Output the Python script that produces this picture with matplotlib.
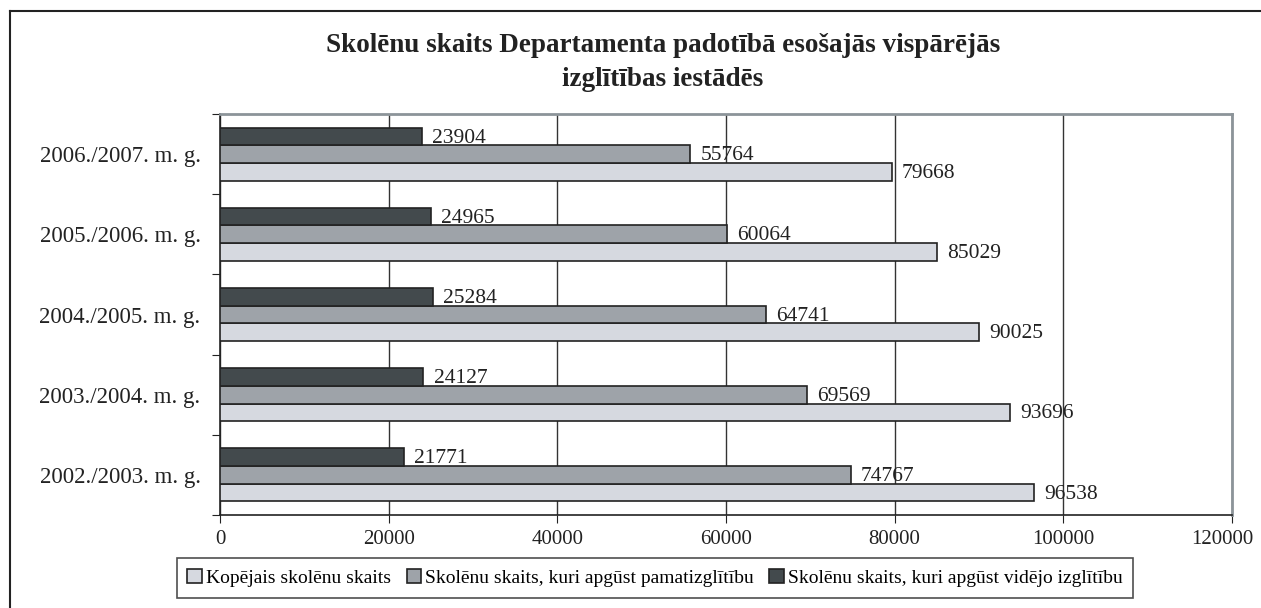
import matplotlib.pyplot as plt
import numpy as np
from matplotlib.lines import Line2D
from matplotlib.transforms import ScaledTranslation

plt.rcParams['font.family'] = ['Liberation Serif', 'DejaVu Serif']

years = ['2002./2003. m. g.', '2003./2004. m. g.', '2004./2005. m. g.',
         '2005./2006. m. g.', '2006./2007. m. g.']
kopejais = [96538, 93696, 90025, 85029, 79668]
pamat = [74767, 69569, 64741, 60064, 55764]
videjo = [21771, 24127, 25284, 24965, 23904]

labels = ['Kopējais skolēnu skaits',
          'Skolēnu skaits, kuri apgūst pamatizglītību',
          'Skolēnu skaits, kuri apgūst vidējo izglītību']
colors = ['#d6d9e0', '#9ea3a9', '#434a4d']

W, H = 1261, 608
fig = plt.figure(figsize=(W / 100, H / 100), dpi=100)
ax = fig.add_axes([220 / W, (H - 515) / H, 1012 / W, 401 / H])

y = np.arange(len(years))
h = 0.22
series = [kopejais, pamat, videjo]
offsets = [-h, 0, h]
for vals, off, col, lab in zip(series, offsets, colors, labels):
    bars = ax.barh(y + off, vals, height=h, color=col, edgecolor='#222222',
                   linewidth=1.2, label=lab, zorder=3)
    for b, v in zip(bars, vals):
        ax.text(v + 1200, b.get_y() + b.get_height() / 2 - 0.02, str(v),
                va='center', ha='left', fontsize=15.5, color='#222222', zorder=4)

ax.set_xlim(0, 120000)
ax.set_ylim(-0.5, len(years) - 0.5)
ax.set_xticks(np.arange(0, 120001, 20000))
ax.set_xticklabels([str(v) for v in range(0, 120001, 20000)], fontsize=15)
ax.xaxis.grid(True, color='#333333', linewidth=1.0, zorder=0)
ax.tick_params(axis='x', direction='out', length=6, color='#222222', pad=5,
               labelcolor='#222222')
# last label sits a bit left of its tick, as in the original
last = ax.get_xticklabels()[-1]
last.set_transform(last.get_transform() + ScaledTranslation(-10 / 100, 0, fig.dpi_scale_trans))

ax.set_yticks(np.arange(-0.5, len(years), 1.0))
ax.set_yticklabels([])
ax.tick_params(axis='y', which='major', direction='out', length=6, color='#222222')
ax.set_yticks(y, minor=True)
ax.set_yticklabels(years, minor=True, fontsize=16.5, color='#222222')
ax.tick_params(axis='y', which='minor', length=0, pad=14)

for s in ['top', 'right']:
    ax.spines[s].set_color('#8c9499')
    ax.spines[s].set_linewidth(2)
for s in ['left', 'bottom']:
    ax.spines[s].set_color('#222222')
    ax.spines[s].set_linewidth(1.2)

fig.text(663 / W, 1 - 45 / H,
         'Skolēnu skaits Departamenta padotībā esošajās vispārējās',
         ha='center', va='center', fontsize=19.5, fontweight='bold', color='#222222')
fig.text(663 / W, 1 - 80 / H, 'izglītības iestādēs',
         ha='center', va='center', fontsize=19.5, fontweight='bold', color='#222222')

handles, labs = ax.get_legend_handles_labels()
leg = fig.legend(handles, labs, loc='center', bbox_to_anchor=(655 / W, 1 - 578 / H),
                 ncol=3, fontsize=14, frameon=True, fancybox=False,
                 edgecolor='#222222', handlelength=0.75, handleheight=0.75,
                 handletextpad=0.2, columnspacing=0.8, borderpad=0.55)
leg.get_frame().set_linewidth(1.2)

# outer frame (left and top edges visible)
fig.add_artist(Line2D([10 / W, 10 / W], [0, 1 - 11 / H], color='#222222', linewidth=1.5))
fig.add_artist(Line2D([10 / W, 1], [1 - 11 / H, 1 - 11 / H], color='#222222', linewidth=1.5))

fig.savefig('out.png', dpi=100)
